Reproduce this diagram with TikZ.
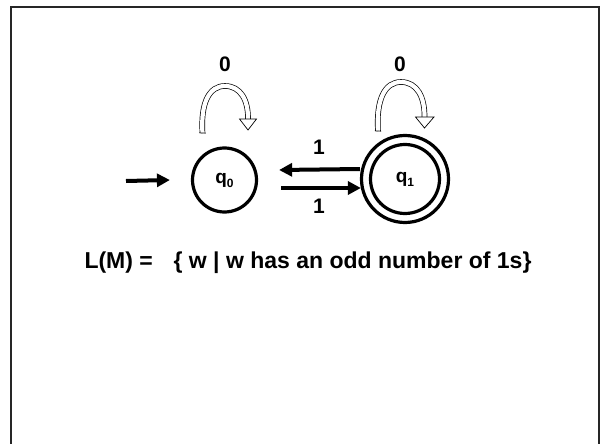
\documentclass[tikz,border=0pt]{standalone}
\usepackage{fontspec}
\setmainfont{Liberation Sans}
\usetikzlibrary{arrows.meta}
\tikzset{
  state/.style={draw, circle, line width=3.2pt, inner sep=0pt, font=\bfseries},
  arr/.style={line width=4pt, -{Triangle[length=13pt,width=13pt]}},
  lbl/.style={font=\fontsize{21}{21}\selectfont\bfseries, inner sep=0pt},
  loopband/.style={double=white, double distance=4.2pt, line width=0.7pt},
  loophead/.style={draw, line width=0.7pt, fill=white, line join=miter},
  frame/.style={line width=2pt, draw=black!85}
}
\newcommand{\qlab}[1]{{\fontsize{19}{19}\selectfont q\raisebox{-4pt}{\fontsize{12}{12}\selectfont #1}}}
\begin{document}
\begin{tikzpicture}[x=1pt,y=-1pt]
\useasboundingbox (0,0) rectangle (600,444);
\draw[frame] (11,444) -- (11,7) -- (599,7) -- (599,444);

\node[state, minimum size=64pt] (q0) at (224.5,180) {\qlab{0}};
\node[state, minimum size=87pt] (q1) at (405,179) {};
\node[state, minimum size=69pt] (q1i) at (q1.center) {\qlab{1}};

\coordinate (s) at (126,181);
\draw[arr] (s) -- ([xshift=-21pt]q0.west);
\draw[arr] ([yshift=10pt]q1.west) -- ([xshift=21pt,yshift=10pt]q0.east);
\draw[arr] ([xshift=23pt,yshift=-8pt]q0.east) -- ([xshift=1pt,yshift=-9pt]q1.west);

\node[lbl] (l1) at (319,147) {1};
\node[lbl] (l2) at (319,206) {1};
\node[lbl] (l0a) at (225,64.5) {0};
\node[lbl] (l0b) at (400,64.5) {0};

\begin{scope}[shift={(q0.center)}]
  \draw[loopband] (-22,-47) .. controls (-24,-78) and (-15,-94) .. (0.5,-94) .. controls (16,-94) and (24,-80) .. (23.5,-60);
  \draw[line width=0.7pt] (-25.1,-47.2) -- (-18.9,-46.8);
  \draw[loophead] (15,-61) -- (32,-61) -- (23.5,-50) -- cycle;
\end{scope}
\begin{scope}[shift={(q1.center)}]
  \draw[loopband] (-27,-48) .. controls (-29,-80) and (-20,-97) .. (-4,-97) .. controls (12,-97) and (20,-82) .. (19.5,-61);
  \draw[line width=0.7pt] (-30.1,-48.2) -- (-23.9,-47.8);
  \draw[loophead] (10.5,-62) -- (29,-62) -- (19.5,-51) -- cycle;
\end{scope}

\node[font=\fontsize{23}{23}\selectfont\bfseries, inner sep=0pt] (lang) at (308,263) {L(M) =\hspace{0.9em}\{ w | w has an odd number of 1s\}};
\end{tikzpicture}
\end{document}
